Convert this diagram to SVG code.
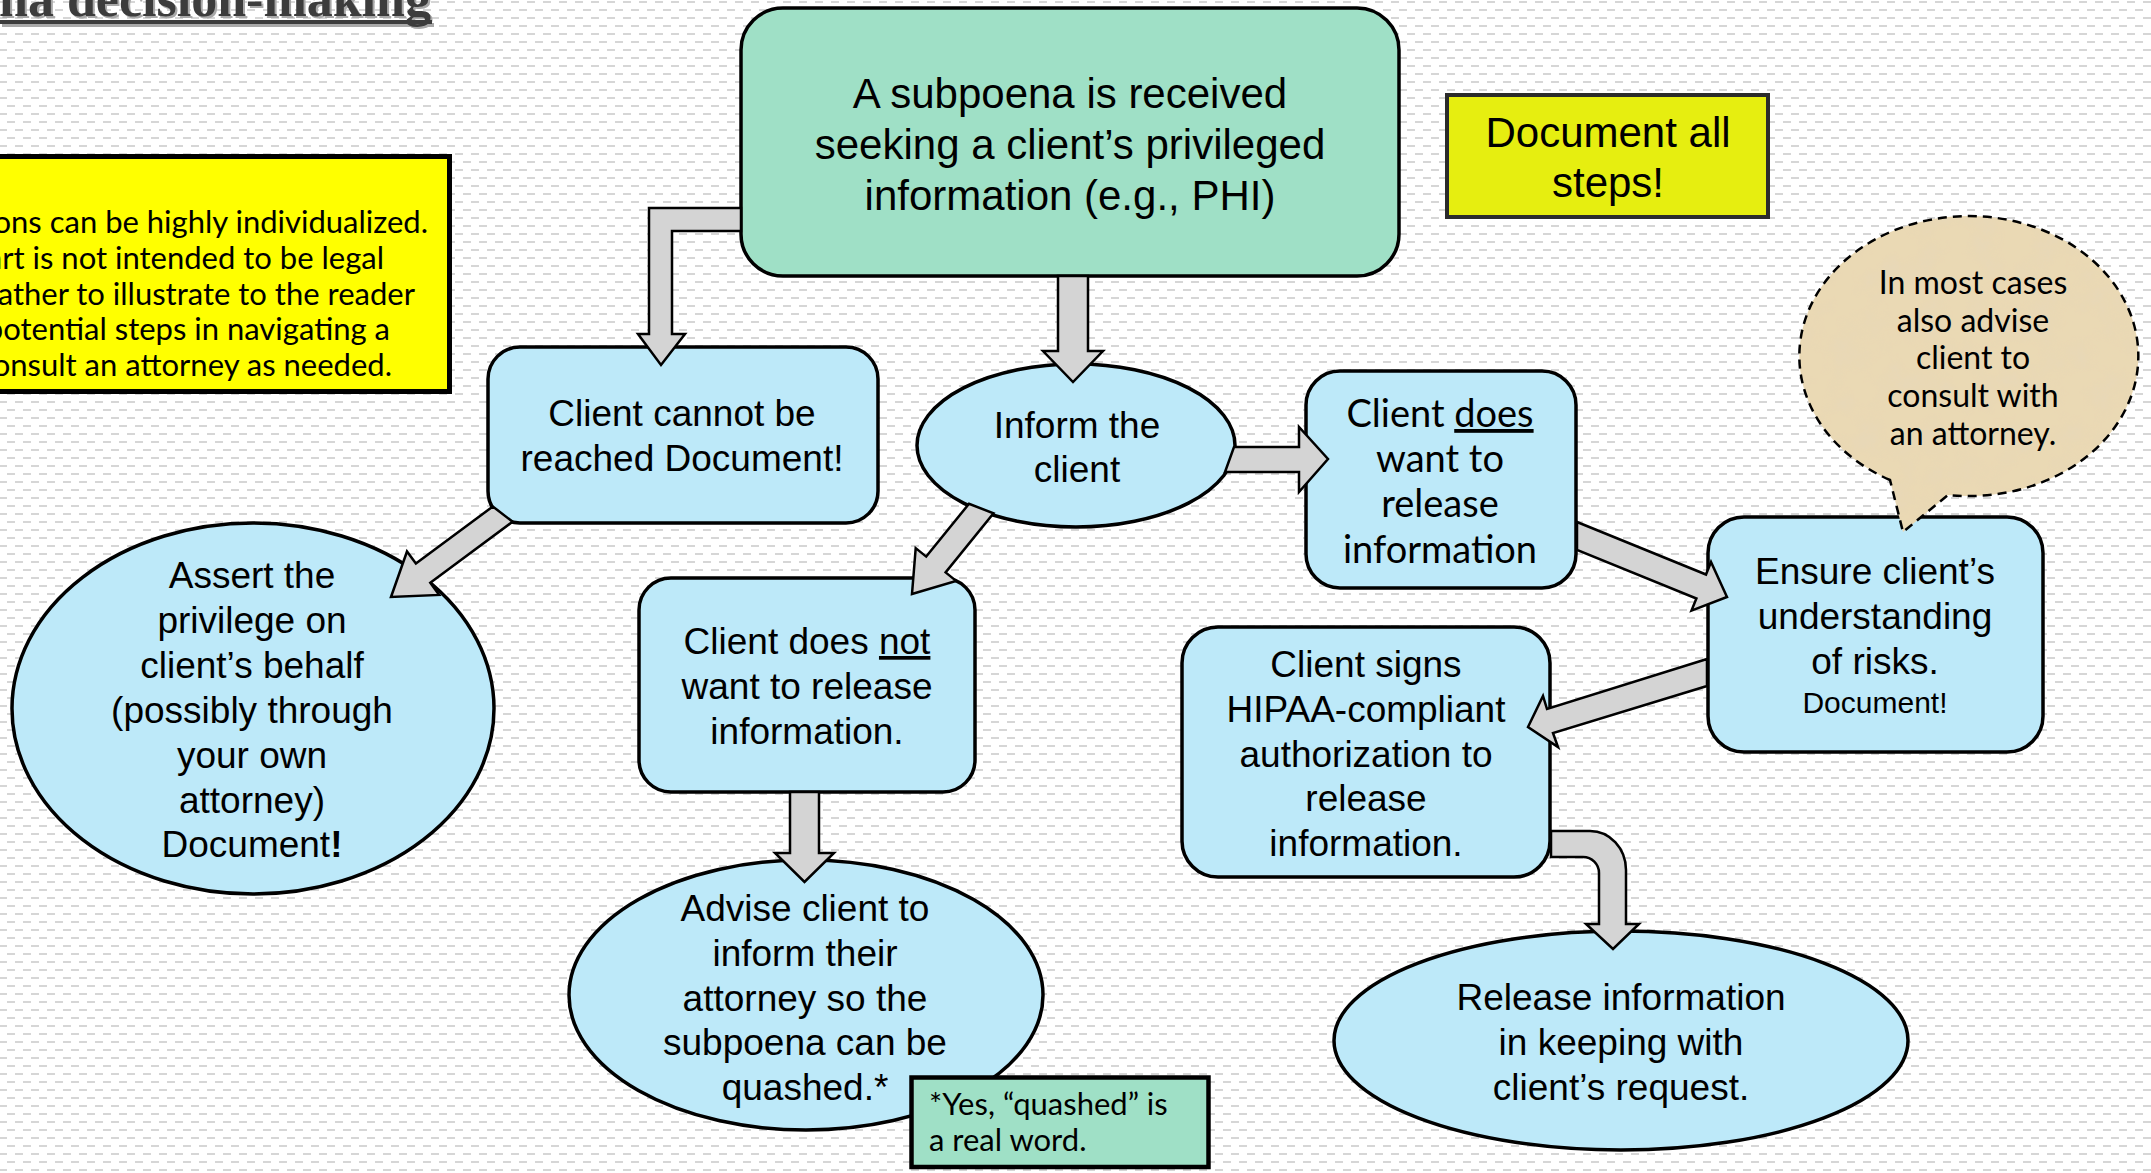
<svg xmlns="http://www.w3.org/2000/svg" width="2151" height="1173" viewBox="0 0 2151 1173">
<defs>
<pattern id="bg" width="16" height="16" patternUnits="userSpaceOnUse">
<rect x="7" y="9" width="8" height="2" fill="#d6d6d6"/>
<rect x="15" y="1" width="8" height="2" fill="#d6d6d6"/>
<rect x="-1" y="1" width="8" height="2" fill="#d6d6d6"/>
</pattern>
<filter id="parch" x="0" y="0" width="100%" height="100%">
<feTurbulence type="fractalNoise" baseFrequency="0.035" numOctaves="4" seed="7" result="n"/>
<feColorMatrix in="n" type="matrix" values="0 0 0 0 0.78  0 0 0 0 0.68  0 0 0 0 0.5  0 0 0 0.9 -0.38" result="c"/>
<feComposite in="c" in2="SourceGraphic" operator="in" result="tex"/>
<feMerge><feMergeNode in="SourceGraphic"/><feMergeNode in="tex"/></feMerge>
</filter>
<style>
.blue{fill:#bde9f9;stroke:#000;stroke-width:3.5}
.green{fill:#9fe0c6;stroke:#000;stroke-width:3.5}
.a{font-family:"Liberation Sans",Arial,sans-serif;font-size:37px;fill:#000;text-anchor:middle}
.a.big{font-size:42px}
.a.small{font-size:30px}
.l{font-family:Lato,"Noto Sans",sans-serif;fill:#000;text-anchor:middle}
.arr{fill:#d4d4d4;stroke:#000;stroke-width:2.5;stroke-linejoin:miter}
.u{text-decoration:underline}
</style>
</defs>
<rect x="0" y="0" width="2151" height="1173" fill="#ffffff"/>
<rect x="0" y="0" width="2151" height="1173" fill="url(#bg)"/>

<g id="title">
<text x="433" y="18" font-family="'Liberation Serif','Times New Roman',serif" font-weight="bold" font-size="52" fill="#a8a8a8" text-anchor="end">na decision-making</text>
<rect x="2" y="23" width="432" height="4" fill="#a8a8a8"/>
<text x="431" y="16" font-family="'Liberation Serif','Times New Roman',serif" font-weight="bold" font-size="52" fill="#3c3c3c" text-anchor="end">na decision-making</text>
<rect x="0" y="20" width="432" height="4" fill="#3c3c3c"/>
</g>

<g id="disclaimer">
<rect x="-10" y="156.5" width="459.5" height="235" fill="#ffff00" stroke="#000" stroke-width="5"/>
<g font-family="Lato,'Noto Sans',sans-serif" font-size="31" fill="#000" text-anchor="end">
<text x="428" y="233">ons can be highly individualized.</text>
<text x="384" y="269">art is not intended to be legal</text>
<text x="415" y="305">ather to illustrate to the reader</text>
<text x="390" y="340">potential steps in navigating a</text>
<text x="392" y="376">onsult an attorney as needed.</text>
</g>
</g>

<g id="subpoena">
<rect x="741" y="8" width="658" height="268" rx="42" class="green"/>
<text class="a big" x="1070" y="108">A subpoena is received</text>
<text class="a big" x="1070" y="159">seeking a client’s privileged</text>
<text class="a big" x="1070" y="210">information (e.g., PHI)</text>
</g>

<g id="document-all">
<rect x="1447" y="95" width="321" height="122" fill="#e6ee10" stroke="#2b2b2b" stroke-width="4"/>
<text class="a big" x="1608" y="147">Document all</text>
<text class="a big" x="1608" y="197">steps!</text>
</g>

<g id="cannot-reach">
<rect x="488" y="347" width="390" height="176" rx="32" class="blue"/>
<text class="a" x="682" y="426">Client cannot be</text>
<text class="a" x="682" y="471">reached Document!</text>
</g>

<g id="inform">
<ellipse cx="1076" cy="445.5" rx="159" ry="81.5" class="blue"/>
<text class="a" x="1077" y="438">Inform the</text>
<text class="a" x="1077" y="482">client</text>
</g>

<g id="does-want">
<rect x="1306" y="371" width="270" height="217" rx="34" class="blue"/>
<text class="l" font-size="38" x="1440" y="427">Client <tspan class="u">does</tspan></text>
<text class="l" font-size="38" x="1440" y="472">want to</text>
<text class="l" font-size="38" x="1440" y="517">release</text>
<text class="l" font-size="38" x="1440" y="563">information</text>
</g>

<g id="does-not">
<rect x="639" y="578" width="336" height="214" rx="32" class="blue"/>
<text class="a" x="807" y="654">Client does <tspan class="u">not</tspan></text>
<text class="a" x="807" y="699">want to release</text>
<text class="a" x="807" y="744">information.</text>
</g>

<g id="assert">
<ellipse cx="253" cy="708.5" rx="241" ry="185.5" class="blue"/>
<text class="a" x="252" y="588">Assert the</text>
<text class="a" x="252" y="633">privilege on</text>
<text class="a" x="252" y="678">client’s behalf</text>
<text class="a" x="252" y="723">(possibly through</text>
<text class="a" x="252" y="768">your own</text>
<text class="a" x="252" y="813">attorney)</text>
<text class="a" x="252" y="857">Document<tspan font-weight="bold">!</tspan></text>
</g>

<g id="advise">
<ellipse cx="806" cy="995" rx="237" ry="135" class="blue"/>
<text class="a" x="805" y="921">Advise client to</text>
<text class="a" x="805" y="966">inform their</text>
<text class="a" x="805" y="1011">attorney so the</text>
<text class="a" x="805" y="1055">subpoena can be</text>
<text class="a" x="805" y="1100">quashed.*</text>
</g>

<g id="footnote">
<rect x="911.5" y="1077.5" width="297" height="89.5" fill="#9fe0c6" stroke="#000" stroke-width="4.5"/>
<text font-family="Lato,'Noto Sans',sans-serif" font-size="31" x="929" y="1115">*Yes, “quashed” is</text>
<text font-family="Lato,'Noto Sans',sans-serif" font-size="31" x="929" y="1151">a real word.</text>
</g>

<g id="ensure">
<rect x="1708" y="517" width="335" height="235" rx="36" class="blue"/>
<text class="a" x="1875" y="584">Ensure client’s</text>
<text class="a" x="1875" y="629">understanding</text>
<text class="a" x="1875" y="674">of risks.</text>
<text class="a small" x="1875" y="713">Document!</text>
</g>

<g id="advice-bubble">
<path d="M1890,480 A169.5,140 0 1 1 1948,495 L1903,532 Z" fill="#ead9b4" filter="url(#parch)"/>
<path d="M1890,480 A169.5,140 0 1 1 1948,495 L1903,532 Z" fill="none" stroke="#000" stroke-width="2.5" stroke-dasharray="9,6"/>
<text class="l" font-size="32" x="1973" y="294">In most cases</text>
<text class="l" font-size="32" x="1973" y="332">also advise</text>
<text class="l" font-size="32" x="1973" y="369">client to</text>
<text class="l" font-size="32" x="1973" y="407">consult with</text>
<text class="l" font-size="32" x="1973" y="445">an attorney.</text>
</g>

<g id="hipaa">
<rect x="1182" y="627" width="368" height="250" rx="36" class="blue"/>
<text class="a" x="1366" y="677">Client signs</text>
<text class="a" x="1366" y="722">HIPAA-compliant</text>
<text class="a" x="1366" y="767">authorization to</text>
<text class="a" x="1366" y="811">release</text>
<text class="a" x="1366" y="856">information.</text>
</g>

<g id="release">
<ellipse cx="1621" cy="1040.5" rx="287" ry="109.5" class="blue"/>
<text class="a" x="1621" y="1010">Release information</text>
<text class="a" x="1621" y="1055">in keeping with</text>
<text class="a" x="1621" y="1100">client’s request.</text>
</g>

<g id="connectors">
<path class="arr" d="M741,208 H649 V334 H638 L661,365 L685,334 H672 V231 H741 Z"/>
<path class="arr" d="M1058,276 V351 H1043 L1073,382 L1103,351 H1088 V276 Z"/>
<path class="arr" d="M1234,447 H1299 V427 L1328,459 L1299,492 V472 H1225 Z"/>
<path class="arr" d="M1577,522 L1706,574.5 L1711,562 L1727,597 L1691.5,610.6 L1696.4,598.5 L1577,550 Z"/>
<path class="arr" d="M1707,659 L1547,709 L1543,696 L1528,727 L1558,747 L1553,733 L1707,686 Z"/>
<path class="arr" d="M1551,831 H1590 A36,39 0 0 1 1626,870 V924 H1639 L1613,949 L1586,924 H1599 V873 A16,16 0 0 0 1583,857 H1551 Z"/>
<path class="arr" d="M969,503.8 L926.2,556.6 L915.7,548.1 L912,594 L956.1,580.9 L945.6,572.4 L993.5,513.3 Z"/>
<path class="arr" d="M492.8,506.5 L415.9,563.6 L407,551.5 L391,597 L439.2,594.9 L430.3,582.8 L512.6,521.7 Z"/>
<path class="arr" d="M790,792 V853 H775 L804.5,882 L834,853 H819 V792 Z"/>
</g>
</svg>
